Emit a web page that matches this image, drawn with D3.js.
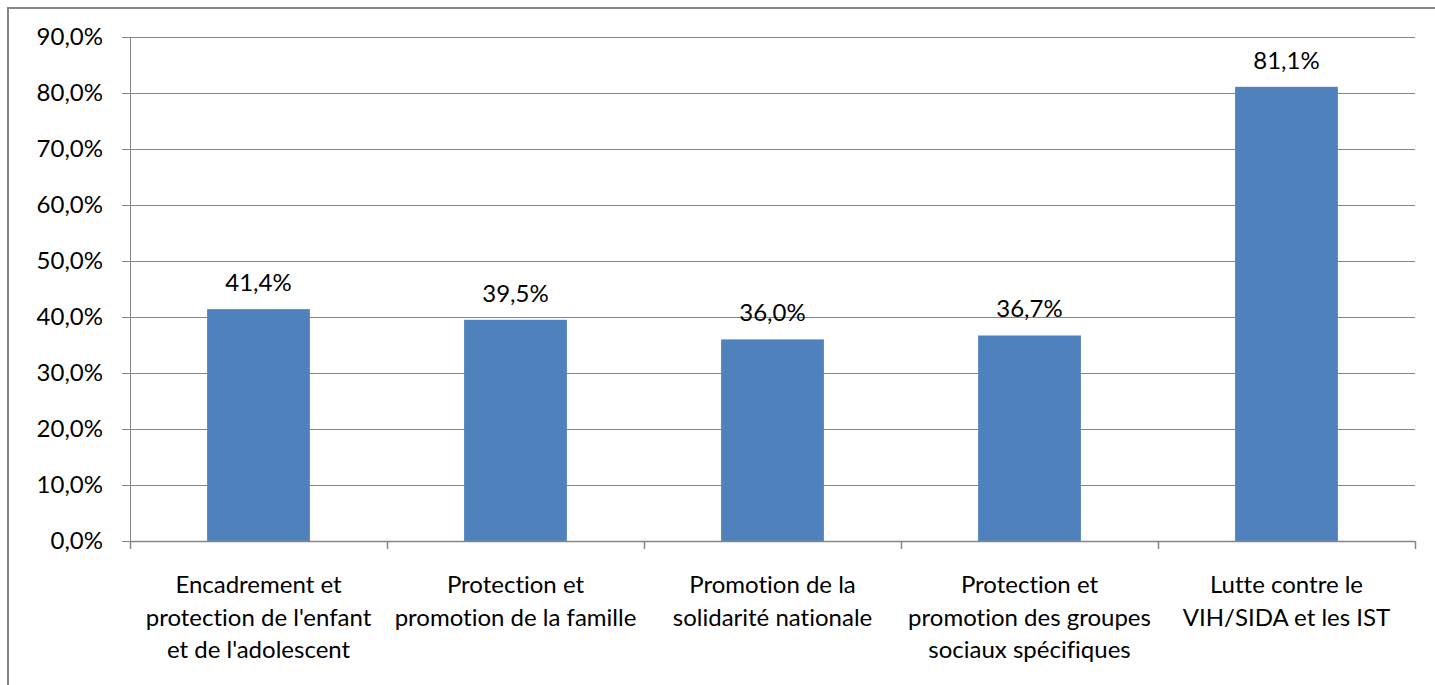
<!DOCTYPE html>
<html>
<head>
<meta charset="utf-8">
<script src="https://cdn.jsdelivr.net/npm/d3@7"></script>
<style>
  body { margin: 0; background: #fff; }
  svg text { font-family: Lato, "Open Sans", sans-serif; fill: #000; font-variant-ligatures: none; font-feature-settings: "liga" 0; }
</style>
</head>
<body>
<div id="chart"></div>
<script>
// Data
const categories = [
  ["Encadrement et", "protection de l'enfant", "et de l'adolescent"],
  ["Protection et", "promotion de la famille"],
  ["Promotion de la", "solidarité nationale"],
  ["Protection et", "promotion des groupes", "sociaux spécifiques"],
  ["Lutte contre le", "VIH/SIDA et les IST"]
]
const values = [41.4, 39.5, 36.0, 36.7, 81.1]
const yTicks = [0, 10, 20, 30, 40, 50, 60, 70, 80, 90]

const width = 1435, height = 685
const margin = { top: 37, right: 20, bottom: 144, left: 130 }
const innerW = width - margin.left - margin.right
const innerH = height - margin.top - margin.bottom
const GRID = "#868686"
const FONT = 24
const fmt = v => v.toFixed(1).replace(".", ",") + "%"

const svg = d3.select("#chart").append("svg")
  .attr("width", width).attr("height", height)

// Outer frame (top and left edges visible)
svg.append("rect")
  .attr("x", 8).attr("y", 8)
  .attr("width", width + 10).attr("height", height + 10)
  .attr("fill", "none").attr("stroke", GRID).attr("stroke-width", 2)

const g = svg.append("g")
  .attr("transform", `translate(${margin.left},${margin.top})`)

const x = d3.scaleBand()
  .domain(d3.range(categories.length))
  .range([0, innerW])
  .paddingInner(0.6).paddingOuter(0.3)

const y = d3.scaleLinear().domain([0, 90]).range([innerH, 0])

// Grid lines
g.append("g")
  .selectAll("line")
  .data(yTicks.slice(1))
  .enter().append("line")
  .attr("x1", 0).attr("x2", innerW)
  .attr("y1", d => y(d) + 0.5).attr("y2", d => y(d) + 0.5)
  .attr("stroke", GRID).attr("stroke-width", 1)

// Y axis
const yAxis = g.append("g")
  .call(d3.axisLeft(y).tickValues(yTicks).tickSize(8).tickPadding(19).tickFormat(d => fmt(d)))
yAxis.selectAll("text").attr("font-size", FONT).attr("fill", "#000")
yAxis.selectAll(".domain, .tick line").attr("stroke", GRID)

// Bars
g.selectAll(".bar")
  .data(values)
  .enter().append("rect")
  .attr("class", "bar")
  .attr("x", (d, i) => x(i))
  .attr("y", d => y(d))
  .attr("width", x.bandwidth())
  .attr("height", d => innerH - y(d))
  .attr("fill", "#4F81BD")

// Value labels
g.selectAll(".val")
  .data(values)
  .enter().append("text")
  .attr("class", "val")
  .attr("x", (d, i) => x(i) + x.bandwidth() / 2)
  .attr("y", d => y(d) - 18)
  .attr("text-anchor", "middle")
  .attr("font-size", FONT)
  .text(d => fmt(d))

// X axis: baseline and band boundary ticks
const step = innerW / categories.length
g.append("line")
  .attr("x1", 0).attr("x2", innerW)
  .attr("y1", innerH + 0.5).attr("y2", innerH + 0.5)
  .attr("stroke", GRID).attr("stroke-width", 1.5)
g.append("g")
  .selectAll("line")
  .data(d3.range(categories.length + 1))
  .enter().append("line")
  .attr("x1", d => d * step + 0.5).attr("x2", d => d * step + 0.5)
  .attr("y1", innerH).attr("y2", innerH + 8)
  .attr("stroke", GRID).attr("stroke-width", 1.5)

// Category labels
g.selectAll(".cat")
  .data(categories)
  .enter().append("text")
  .attr("class", "cat")
  .attr("text-anchor", "middle")
  .attr("font-size", FONT)
  .attr("transform", (d, i) => `translate(${x(i) + x.bandwidth() / 2},${innerH + 52})`)
  .each(function(lines) {
    d3.select(this).selectAll("tspan")
      .data(lines)
      .enter().append("tspan")
      .attr("x", 0)
      .attr("y", (d, j) => j * 32.5)
      .text(d => d)
  })
</script>
</body>
</html>
